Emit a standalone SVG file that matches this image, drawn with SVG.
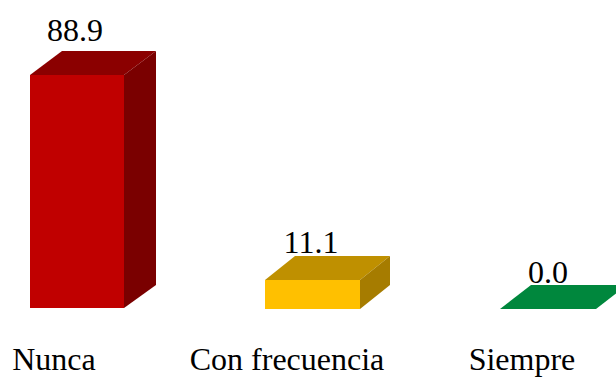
<svg xmlns="http://www.w3.org/2000/svg" width="616" height="378" viewBox="0 0 616 378">
<style>
.t{font-family:'Liberation Serif','Times New Roman','DejaVu Serif',serif;font-size:32px;fill:#000;text-anchor:middle}
</style>
<rect width="616" height="378" fill="#fff"/>
<g id="bar-nunca">
<polygon points="30,75 62,51 156,51 124,75" fill="#8b0000"/>
<polygon points="124,75 156,51 156,285 124,308" fill="#7a0000"/>
<rect x="30" y="75" width="94" height="233" fill="#c00000"/>
<text class="t" x="75" y="41" font-family="Liberation Serif">88.9</text>
</g>
<g id="bar-con-frecuencia">
<polygon points="265,280 295,256 390,256 360,280" fill="#bf9000"/>
<polygon points="360,280 390,256 390,285 360,309" fill="#a67c00"/>
<rect x="265" y="280" width="95" height="29" fill="#ffc000"/>
<text class="t" x="311" y="253" font-family="Liberation Serif">11.1</text>
</g>
<g id="bar-siempre">
<polygon points="500,309 531,285 627,285 596,309" fill="#00873d"/>
<text class="t" x="548" y="283" font-family="Liberation Serif">0.0</text>
</g>
<g id="labels">
<text class="t" x="54" y="370" font-family="Liberation Serif">Nunca</text>
<text class="t" x="287" y="370" font-family="Liberation Serif">Con frecuencia</text>
<text class="t" x="522" y="370" font-family="Liberation Serif">Siempre</text>
</g>
</svg>
